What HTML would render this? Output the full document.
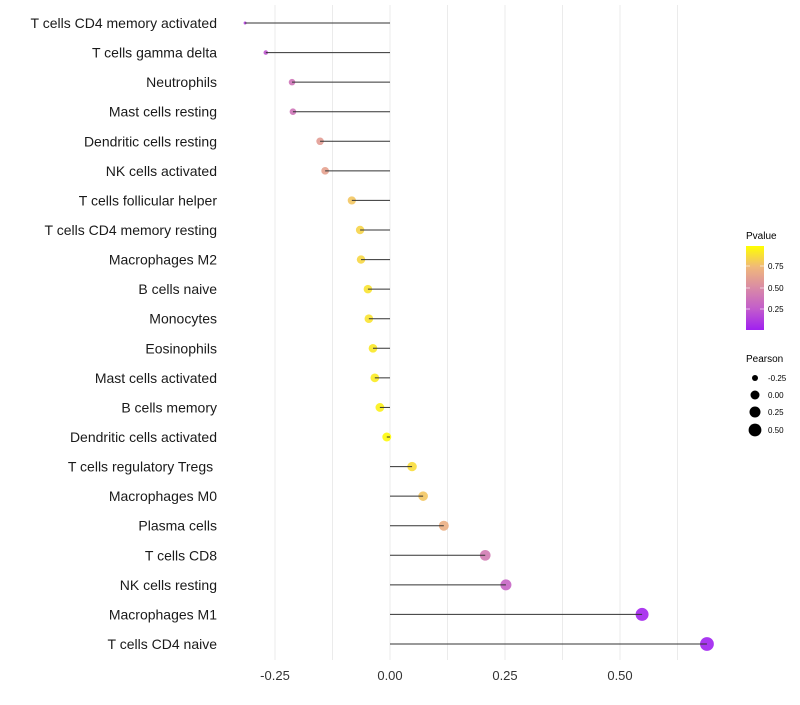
<!DOCTYPE html>
<html><head><meta charset="utf-8"><style>
body{margin:0;background:#fff;font-family:"Liberation Sans",sans-serif}
</style></head><body>
<svg id="chart" width="800" height="700">
<defs><linearGradient id="pg" x1="0" y1="1" x2="0" y2="0">
<stop offset="0" stop-color="#a020f0"/><stop offset="0.25" stop-color="#c25ccc"/><stop offset="0.5" stop-color="#d98aa6"/><stop offset="0.75" stop-color="#f0b87a"/><stop offset="1" stop-color="#ffff00"/>
</linearGradient></defs>
<g id="grid"></g><g id="points"></g><g id="marks"></g><g id="labels"></g>
<g>
<text x="746" y="239" font-size="10">Pvalue</text>
<rect x="746" y="246" width="18" height="84" fill="url(#pg)"/>
<g font-size="8"><text x="768" y="269">0.75</text><text x="768" y="291">0.50</text><text x="768" y="312">0.25</text></g>
<g stroke="#fff" stroke-opacity="0.6"><line x1="746" x2="750" y1="266" y2="266"/><line x1="760" x2="764" y1="266" y2="266"/><line x1="746" x2="750" y1="288" y2="288"/><line x1="760" x2="764" y1="288" y2="288"/><line x1="746" x2="750" y1="309" y2="309"/><line x1="760" x2="764" y1="309" y2="309"/></g>
</g>
<g font-size="8">
<text x="746" y="362" font-size="10">Pearson</text>
<circle cx="755" cy="378" r="3"/><text x="768" y="381">-0.25</text>
<circle cx="755" cy="395" r="4.5"/><text x="768" y="398">0.00</text>
<circle cx="755" cy="412" r="5.5"/><text x="768" y="415">0.25</text>
<circle cx="755" cy="430" r="6.4"/><text x="768" y="433">0.50</text>
</g>
</svg>
<script>
const categories=["T cells CD4 memory activated","T cells gamma delta","Neutrophils","Mast cells resting","Dendritic cells resting","NK cells activated","T cells follicular helper","T cells CD4 memory resting","Macrophages M2","B cells naive","Monocytes","Eosinophils","Mast cells activated","B cells memory","Dendritic cells activated","T cells regulatory  Tregs\u00a0","Macrophages M0","Plasma cells","T cells CD8","NK cells resting","Macrophages M1","T cells CD4 naive"];
const pearson=[-0.315,-0.27,-0.213,-0.211,-0.152,-0.141,-0.083,-0.065,-0.063,-0.048,-0.046,-0.037,-0.033,-0.022,-0.007,0.048,0.072,0.117,0.207,0.252,0.548,0.689];
const pvalues=[0.13,0.23,0.38,0.38,0.6,0.63,0.8,0.85,0.86,0.9,0.9,0.92,0.93,0.95,0.98,0.88,0.8,0.7,0.42,0.3,0.02,0.003];
const ticks=[-0.25,0,0.25,0.5];
const tickLabels=["-0.25","0.00","0.25","0.50"];
const NS="http://www.w3.org/2000/svg";
const xs=v=>390+v*460;
const ys=i=>23+i*(621/21);
function rad(v){if(v<-0.2){return 1.5+(v+0.315)/0.115*2;}return Math.sqrt(Math.max(0,20.25+40*v));}
const stops=[[0,[160,32,240]],[0.25,[194,92,204]],[0.5,[217,138,166]],[0.75,[240,184,122]],[1,[255,255,0]]];
function col(p){for(let k=1;k<stops.length;k++){if(p<=stops[k][0]){const a=stops[k-1],b=stops[k],t=(p-a[0])/(b[0]-a[0]);return`rgb(${a[1].map((c,j)=>Math.round(c+(b[1][j]-c)*t)).join(",")})`;}}return"rgb(255,255,0)";}
function mk(t,a,parent){const e=document.createElementNS(NS,t);for(const k in a)e.setAttribute(k,a[k]);parent.appendChild(e);return e;}
const grid=document.getElementById("grid"),marks=document.getElementById("marks"),pts=document.getElementById("points"),labels=document.getElementById("labels");
for(let v=-0.25;v<=0.626;v+=0.125){const l=mk("line",{x1:xs(v),x2:xs(v),y1:5,y2:660,stroke:"#ebebeb","stroke-width":1},grid);

}
ticks.forEach((v,i)=>{const t=mk("text",{x:xs(v),y:680,"font-size":13,"text-anchor":"middle",fill:"#333"},labels);t.textContent=tickLabels[i];

});
categories.forEach((c,i)=>{const y=ys(i),v=pearson[i];
const t=mk("text",{x:217,y:y+5,"font-size":14,"text-anchor":"end",fill:"#1a1a1a"},labels);t.textContent=c;


const p=mk("circle",{cx:xs(v),cy:y,r:rad(v),fill:col(pvalues[i]),"fill-opacity":0.9},pts);


const l=mk("line",{x1:xs(0),x2:xs(v),y1:y,y2:y,stroke:"#333","stroke-width":1},marks);

});
</script>
</body></html>
